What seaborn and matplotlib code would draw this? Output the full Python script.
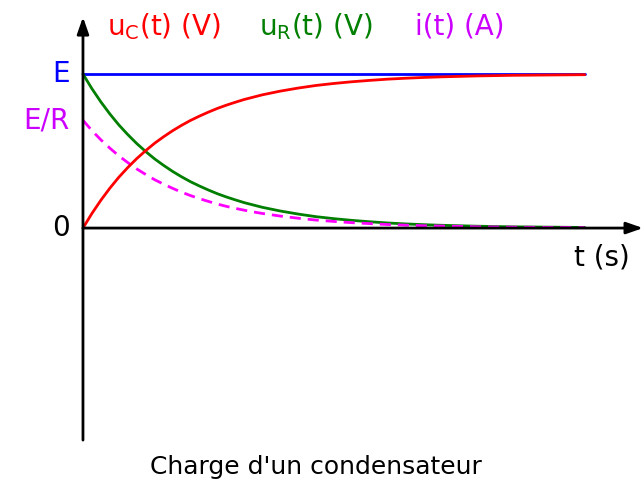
import seaborn as sns
import matplotlib.pyplot as plt
import pandas as pd
import numpy as np

# time in units of tau (in units of E, E/R drawn at 0.70)
t = [0.0, 0.1, 0.2, 0.3, 0.4, 0.5, 0.6, 0.7, 0.8, 0.9, 1.0, 1.1, 1.2, 1.3, 1.4,
     1.5, 1.6, 1.7, 1.8, 1.9, 2.0, 2.2, 2.4, 2.6, 2.8, 3.0, 3.2, 3.4, 3.6, 3.8,
     4.0, 4.2, 4.4, 4.6, 4.8, 5.0, 5.2, 5.4, 5.6]
u_R = [1.000, 0.905, 0.819, 0.741, 0.670, 0.607, 0.549, 0.497, 0.449, 0.407,
       0.368, 0.333, 0.301, 0.273, 0.247, 0.223, 0.202, 0.183, 0.165, 0.150,
       0.135, 0.111, 0.091, 0.074, 0.061, 0.050, 0.041, 0.033, 0.027, 0.022,
       0.018, 0.015, 0.012, 0.010, 0.008, 0.007, 0.006, 0.005, 0.004]
u_C = [0.000, 0.095, 0.181, 0.259, 0.330, 0.393, 0.451, 0.503, 0.551, 0.593,
       0.632, 0.667, 0.699, 0.727, 0.753, 0.777, 0.798, 0.817, 0.835, 0.850,
       0.865, 0.889, 0.909, 0.926, 0.939, 0.950, 0.959, 0.967, 0.973, 0.978,
       0.982, 0.985, 0.988, 0.990, 0.992, 0.993, 0.994, 0.995, 0.996]
i_t = [0.700, 0.633, 0.573, 0.519, 0.469, 0.425, 0.384, 0.348, 0.314, 0.285,
       0.258, 0.233, 0.211, 0.191, 0.173, 0.156, 0.141, 0.128, 0.116, 0.105,
       0.095, 0.078, 0.064, 0.052, 0.043, 0.035, 0.029, 0.023, 0.019, 0.015,
       0.013, 0.011, 0.008, 0.007, 0.006, 0.005, 0.004, 0.004, 0.003]
E_line = [1.0] * len(t)

y_ticks = [0, 0.70, 1.0]
y_labels = ["0", "E/R", "E"]
y_colors = ["black", "#cc00ff", "blue"]

df = pd.DataFrame({"t": t, "uC": u_C, "uR": u_R, "i": i_t, "E": E_line})

sns.set_style("white")
plt.rcParams["font.family"] = ["DejaVu Sans"]
plt.rcParams["text.color"] = "black"

fig = plt.figure(figsize=(6.43, 4.88), dpi=100)
ax = fig.add_axes([0, 0, 1, 1])
ax.set_xlim(-0.926, 6.25)
ax.set_ylim(-1.688, 1.481)

# axes with arrows
arrow = dict(arrowstyle="-|>,head_length=1.0,head_width=0.35",
             color="black", lw=2, shrinkA=0, shrinkB=0)
ax.annotate("", xy=(6.25, 0), xytext=(0, 0), arrowprops=arrow)
ax.annotate("", xy=(0, 1.37), xytext=(0, -1.377), arrowprops=arrow)

sns.lineplot(data=df, x="t", y="E", color="blue", lw=2, ax=ax)
sns.lineplot(data=df, x="t", y="uR", color="#007f00", lw=2, ax=ax)
sns.lineplot(data=df, x="t", y="i", color="#ff00ff", lw=2, ls=(0, (4, 2.5)), ax=ax)
sns.lineplot(data=df, x="t", y="uC", color="red", lw=2, ax=ax)
ax.axis("off")

for v, lab, c in zip(y_ticks, y_labels, y_colors):
    ax.text(-0.15, v, lab, color=c, fontsize=20, ha="right", va="center")

ax.text(6.1, -0.19, "t (s)", color="black", fontsize=20, ha="right", va="center")
ax.text(0.27, 1.31, r"u$_\mathrm{C}$(t) (V)", color="red", fontsize=20, va="center")
ax.text(1.97, 1.31, r"u$_\mathrm{R}$(t) (V)", color="#007f00", fontsize=20, va="center")
ax.text(3.70, 1.31, "i(t) (A)", color="#cc00ff", fontsize=20, va="center")
ax.text(2.6, -1.55, "Charge d'un condensateur", color="black", fontsize=18,
        ha="center", va="center")

fig.savefig("out.png", dpi=100)
